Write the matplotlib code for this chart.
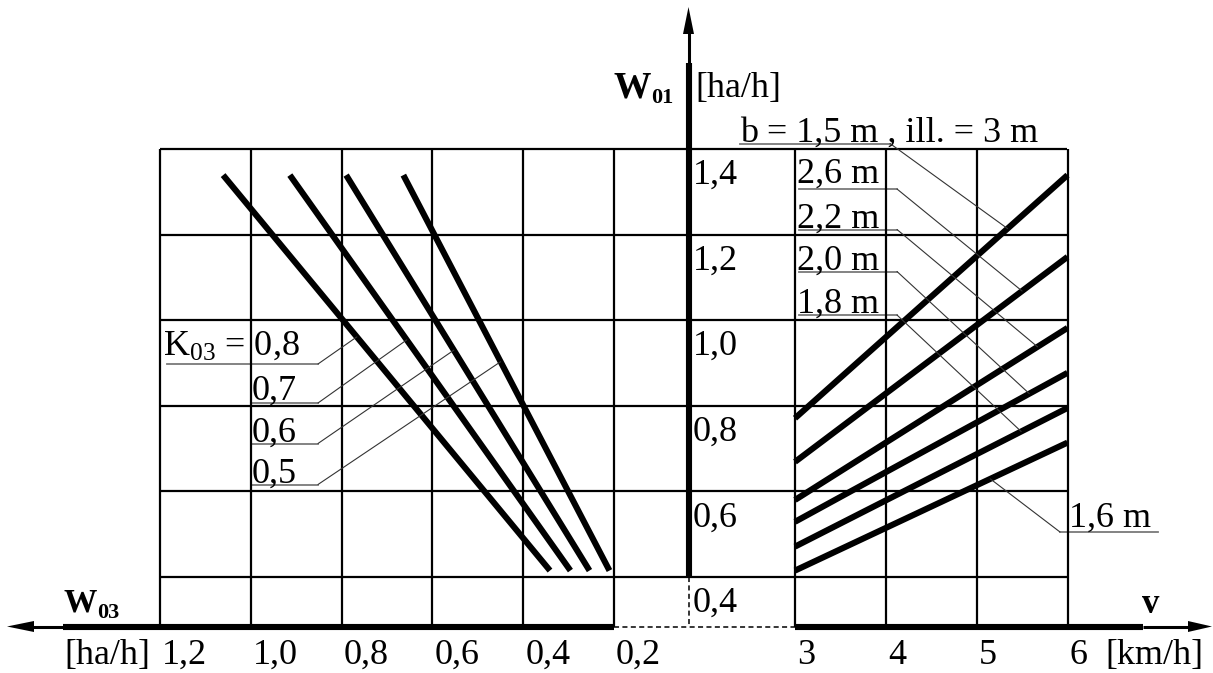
import numpy as np
import matplotlib
matplotlib.use("Agg")
import matplotlib.pyplot as plt
from matplotlib.patches import ConnectionPatch, Polygon
from matplotlib import transforms

plt.rcParams['font.family'] = ['Liberation Serif', 'DejaVu Serif']
plt.rcParams['mathtext.fontset'] = 'custom'
plt.rcParams['mathtext.rm'] = 'Liberation Serif'
plt.rcParams['mathtext.it'] = 'Liberation Serif:italic'
plt.rcParams['mathtext.bf'] = 'Liberation Serif:bold'
plt.rcParams['mathtext.default'] = 'regular'

# ---------------- data ----------------
w01_ticks = [0.4, 0.6, 0.8, 1.0, 1.2, 1.4]
w01_labels = ["0,4", "0,6", "0,8", "1,0", "1,2", "1,4"]
w03_ticks = [1.2, 1.0, 0.8, 0.6, 0.4, 0.2]
w03_labels = ["1,2", "1,0", "0,8", "0,6", "0,4", "0,2"]
v_ticks = [3, 4, 5, 6]
v_labels = ["3", "4", "5", "6"]

# K03 lines (left quadrant): W03 at the upper and lower ends, W01 at the ends
k_labels = ["K$_{03}$ = 0,8", "0,7", "0,6", "0,5"]
k_w01_ends = [1.339, 0.415]
k_w03_top = [1.061, 0.914, 0.790, 0.664]
k_w03_bottom = [0.341, 0.296, 0.254, 0.210]

# working width lines (right quadrant): W01 at v = 3 and v = 6 km/h
b_labels = ["b = 1,5 m , ill. = 3 m", "2,6 m", "2,2 m", "2,0 m", "1,8 m", "1,6 m"]
b_v_ends = [3, 6]
b_w01_v3 = [0.771, 0.669, 0.580, 0.529, 0.471, 0.415]
b_w01_v6 = [1.339, 1.148, 0.982, 0.877, 0.795, 0.714]

# where the leader lines touch the curves
k_leader_w01 = [0.961, 0.954, 0.930, 0.903]
b_leader_v = [5.34, 5.50, 5.67, 5.58, 5.49, 5.15]

# ---------------- layout (pixels) ----------------
W, H = 1213, 673
GXL0, GXL1 = 160, 614
GXR0, GXR1 = 795, 1067.5
GYT, GYB = 149, 577
AXY = 626.5
CX = 688.5
PT = 0.72  # px -> pt
FS = 26

fig = plt.figure(figsize=(W / 100, H / 100), dpi=100)
canvas = fig.add_axes([0, 0, 1, 1])
canvas.set_xlim(0, W)
canvas.set_ylim(H, 0)
canvas.axis('off')


def rect(x0, x1, yt, yb):
    return [x0 / W, (H - yb) / H, (x1 - x0) / W, (yb - yt) / H]


axL = fig.add_axes(rect(GXL0, GXL1, GYT, GYB))
axL.set_xlim(w03_ticks[0], w03_ticks[-1])
axL.set_ylim(w01_ticks[0], w01_ticks[-1])
axL.axis('off')

axR = fig.add_axes(rect(GXR0, GXR1, GYT, GYB))
axR.set_xlim(v_ticks[0], v_ticks[-1])
axR.set_ylim(w01_ticks[0], w01_ticks[-1])
axR.axis('off')

GRID_LW = 1.6
ext = -(AXY - GYB) / (GYB - GYT)
axL.vlines(w03_ticks, ext, 1, transform=axL.get_xaxis_transform(),
           colors='k', lw=GRID_LW, clip_on=False)
axR.vlines(v_ticks, ext, 1, transform=axR.get_xaxis_transform(),
           colors='k', lw=GRID_LW, clip_on=False)
axL.hlines(w01_ticks, 0, (GXR1 - GXL0) / (GXL1 - GXL0),
           transform=axL.get_yaxis_transform(), colors='k', lw=GRID_LW,
           clip_on=False)

LINE_LW = 4.4
for i in range(len(k_labels)):
    axL.plot([k_w03_top[i], k_w03_bottom[i]], k_w01_ends, color='k',
             lw=LINE_LW, solid_capstyle='butt', clip_on=False, zorder=3)
for i in range(len(b_labels)):
    axR.plot(b_v_ends, [b_w01_v3[i], b_w01_v6[i]], color='k',
             lw=LINE_LW, solid_capstyle='butt', clip_on=False, zorder=3)

# ---------------- axes with arrows ----------------
THICK = 4.4
THIN = 2.2
# central vertical axis
canvas.plot([CX, CX], [GYB, 63], color='k', lw=THICK, solid_capstyle='butt')
canvas.plot([CX, CX], [63, 30], color='k', lw=THIN, solid_capstyle='butt')
canvas.add_patch(Polygon([(CX, 7), (CX - 5.5, 34), (CX + 5.5, 34)],
                         closed=True, color='k', lw=0))
canvas.plot([CX, CX], [GYB, AXY], color='k', lw=1.1,
            linestyle=(0, (3.3, 2.2)))
# bottom axis left part
canvas.plot([63, GXL1], [AXY, AXY], color='k', lw=THICK, solid_capstyle='butt')
canvas.plot([30, 63], [AXY, AXY], color='k', lw=THIN, solid_capstyle='butt')
canvas.add_patch(Polygon([(7, AXY), (34, AXY - 5.5), (34, AXY + 5.5)],
                         closed=True, color='k', lw=0))
# dashed middle part
canvas.plot([GXL1, GXR0], [AXY, AXY], color='k', lw=1.1,
            linestyle=(0, (3.3, 2.2)))
# bottom axis right part
canvas.plot([GXR0, 1143], [AXY, AXY], color='k', lw=THICK, solid_capstyle='butt')
canvas.plot([1143, 1195], [AXY, AXY], color='k', lw=THIN, solid_capstyle='butt')
canvas.add_patch(Polygon([(1212, AXY), (1188, AXY - 5.5), (1188, AXY + 5.5)],
                         closed=True, color='k', lw=0))

# ---------------- tick labels ----------------
tW01 = transforms.offset_copy(
    transforms.blended_transform_factory(canvas.transData, axL.transData),
    fig=fig, x=0, y=-35 * PT, units='points')
for t, lab in zip(w01_ticks, w01_labels):
    canvas.text(CX + 4, t, lab, transform=tW01, fontsize=FS,
                ha='left', va='baseline')

tW03 = transforms.offset_copy(
    transforms.blended_transform_factory(axL.transData, canvas.transData),
    fig=fig, x=2 * PT, y=0, units='points')
for t, lab in zip(w03_ticks, w03_labels):
    canvas.text(t, 664, lab, transform=tW03, fontsize=FS,
                ha='left', va='baseline')

tV = transforms.offset_copy(
    transforms.blended_transform_factory(axR.transData, canvas.transData),
    fig=fig, x=2 * PT, y=0, units='points')
for t, lab in zip(v_ticks, v_labels):
    canvas.text(t, 664, lab, transform=tV, fontsize=FS,
                ha='left', va='baseline')

canvas.text(150, 664, "[ha/h]", fontsize=FS, ha='right', va='baseline')
canvas.text(1105, 664, "[km/h]", fontsize=FS, ha='left', va='baseline')

# axis titles
canvas.text(614, 98, "W", fontsize=27, fontweight='bold', ha='left', va='baseline')
canvas.text(651, 103, "01", fontsize=16, fontweight='bold', ha='left', va='baseline')
canvas.text(695, 97, "[ha/h]", fontsize=FS, ha='left', va='baseline')
canvas.text(63, 612, "W", fontsize=24, fontweight='bold', ha='left', va='baseline')
canvas.text(97, 618, "03", fontsize=16, fontweight='bold', ha='left', va='baseline')
canvas.text(1142, 613, "v", fontsize=25, fontweight='bold', ha='left', va='baseline')

# ---------------- curve labels with leaders ----------------
UL_C = '#7a7a7a'
LD_C = '#333333'

# left: K03
k_text_pos = [(163, 355), (252, 400), (252, 442), (252, 483)]
k_ul = [(167, 318, 364), (252, 318, 403), (252, 318, 443.5), (252, 318, 484.5)]
for i, lab in enumerate(k_labels):
    x, y = k_text_pos[i]
    canvas.text(x, y, lab, fontsize=FS, ha='left', va='baseline', zorder=4)
    x0, x1, yu = k_ul[i]
    canvas.plot([x0, x1], [yu, yu], color=UL_C, lw=1.3)
    w03_t = np.interp(k_leader_w01[i], k_w01_ends[::-1],
                      [k_w03_bottom[i], k_w03_top[i]])
    con = ConnectionPatch(xyA=(x1, yu), coordsA=canvas.transData,
                          xyB=(w03_t, k_leader_w01[i]), coordsB=axL.transData,
                          color=LD_C, lw=0.8)
    fig.add_artist(con)

# right: working widths
b_text_pos = [(740, 142), (797, 183), (797, 228), (797, 270), (797, 313), (1069, 527)]
b_ul = [(740, 890, 143.5), (799, 897, 189), (799, 897, 229.5),
        (799, 897, 271.5), (799, 897, 315), (1060, 1158, 532)]
b_start = [890, 897, 897, 897, 897, 1060]
for i, lab in enumerate(b_labels):
    x, y = b_text_pos[i]
    canvas.text(x, y, lab, fontsize=FS, ha='left', va='baseline', zorder=4)
    x0, x1, yu = b_ul[i]
    canvas.plot([x0, x1], [yu, yu], color=UL_C, lw=1.3)
    w01_t = np.interp(b_leader_v[i], b_v_ends, [b_w01_v3[i], b_w01_v6[i]])
    con = ConnectionPatch(xyA=(b_start[i], yu), coordsA=canvas.transData,
                          xyB=(b_leader_v[i], w01_t), coordsB=axR.transData,
                          color=LD_C, lw=0.8)
    fig.add_artist(con)

fig.savefig("out.png", dpi=100)
